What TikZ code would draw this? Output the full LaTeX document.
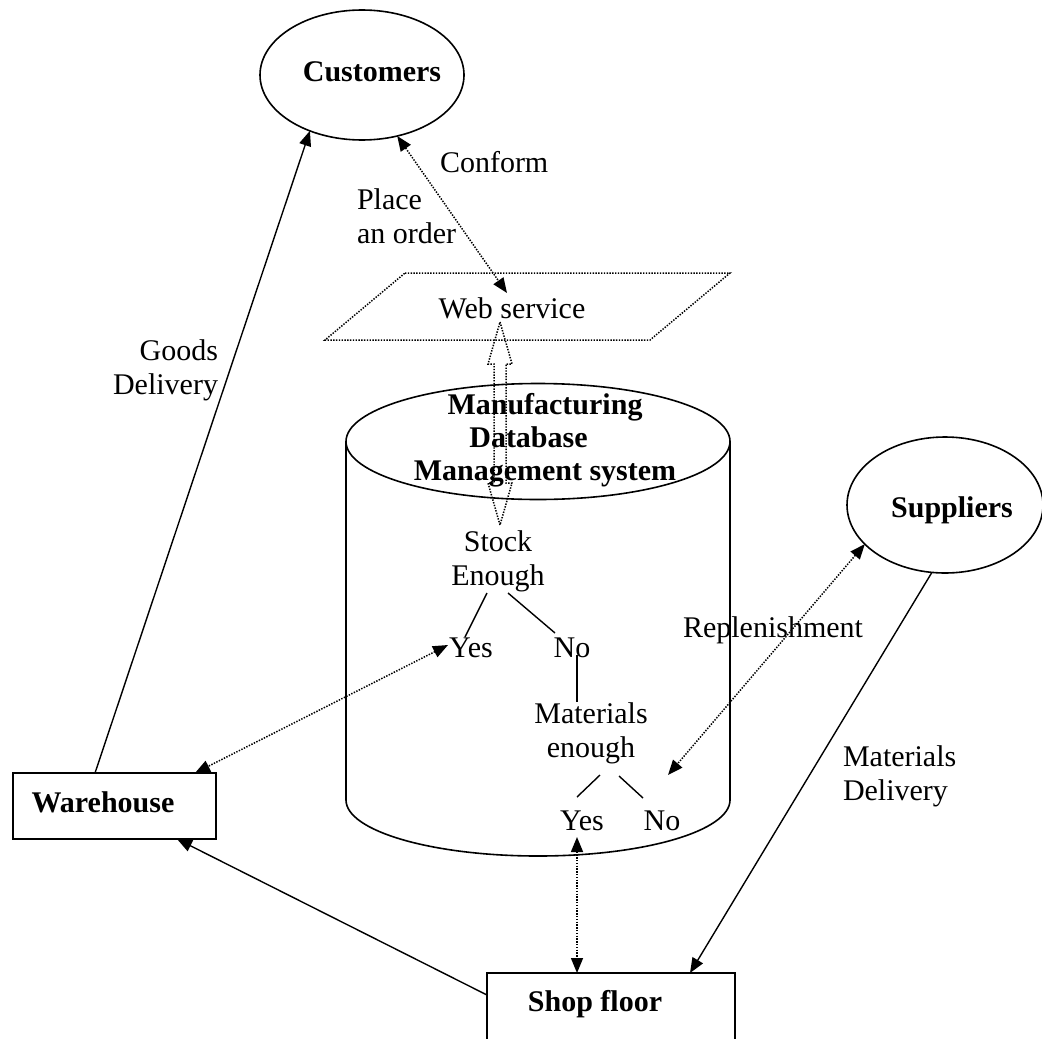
\documentclass[tikz,border=0pt]{standalone}
\usepackage{fontspec}
\setmainfont{Liberation Serif}
\usetikzlibrary{arrows.meta,shapes.geometric,calc}
\begin{document}
\begin{tikzpicture}[x=0.5pt,y=-0.5pt,
  every node/.style={font=\fontsize{15}{17}\selectfont, inner sep=0pt, outer sep=0pt},
  boldtext/.style={font=\fontsize{15}{16.5}\selectfont\bfseries},
  outline/.style={line width=0.8pt},
  flow/.style={line width=0.7pt, -{Triangle[length=7.5pt,width=6pt]}},
  dotline/.style={line width=0.75pt, dash pattern=on 0.7pt off 0.7pt},
  dotflow/.style={dotline, {Triangle[length=7.5pt,width=6pt]}-{Triangle[length=7.5pt,width=6pt]}},
  branch/.style={line width=0.7pt}
]
\clip (0,0) rectangle (1042,1038);

% --- external parties ---
\node[draw, ellipse, outline, minimum width=102pt, minimum height=65pt] (cust) at (362,75) {};
\node[boldtext] (custtxt) at (372,72) {Customers};

\node[draw, ellipse, outline, minimum width=98pt, minimum height=68pt] (sup) at (945,505) {};
\node[boldtext] (suptxt) at (952,510) {Suppliers};

\node[draw, rectangle, outline, minimum width=101.5pt, minimum height=33pt] (wh) at (114.5,806) {};
\node[boldtext] (whtxt) at (103,802) {Warehouse};

\node[draw, rectangle, outline, minimum width=124pt, minimum height=50pt] (shop) at (611,1023) {};
\node[boldtext] (shoptxt) at (595,1004) {Shop floor};

% --- web service (dotted parallelogram) ---
\draw[dotline] (405,273) -- (730,273) -- (650,340) -- (325,340) -- cycle;
\node (ws) at (512,308) {Web service};

% --- database cylinder ---
\draw[outline] (346,441) -- (346,800)
  arc[start angle=180, end angle=360, x radius=96pt, y radius=28pt] -- (730,441);
\draw[outline] (538,441.5) ellipse[x radius=96pt, y radius=29pt];
\node[boldtext, align=center] (db) at (545,440)
  {Manufacturing\\Database\hspace*{1.1em}\null\\Management system};

% hollow two-way link between web service and database
\draw[dotline] (500,322) -- (512,364) -- (506,364) -- (506,483) -- (512,483)
  -- (500,525) -- (488,483) -- (494,483) -- (494,364) -- (488,364) -- cycle;

% --- decision tree inside the database ---
\node[align=center] (stock) at (498,561) {Stock\\Enough};
\node (yes1) at (471,648) {Yes};
\node (no1) at (572,648) {No};
\node[align=center] (mat) at (591,733) {Materials\\enough};
\node (yes2) at (582,821) {Yes};
\node (no2) at (662,821) {No};

\draw[branch] ($(stock)+(-11,32)$) -- ($(yes1)+(-6,-11)$);
\draw[branch] ($(stock)+(10,32)$) -- ($(no1)+(-17,-15)$);
\draw[branch] ($(no1)+(5,7)$) -- ($(mat)+(-14,-31)$);
\draw[branch] ($(mat)+(9,42)$) -- ($(yes2)+(-5,-24)$);
\draw[branch] ($(mat)+(28,43)$) -- ($(no2)+(-19,-23)$);

% --- flows ---
\draw[flow] ($(wh.north west)+(82,0)$) -- (cust.227);
\draw[dotflow] (cust.300) -- ($(ws)+(-5,-15)$);
\draw[dotflow] ($(yes1)+(-23,-3)$) -- ($(wh.north west)+(182,0)$);
\draw[dotflow] (sup.206) -- ($(no2)+(6,-46)$);
\draw[flow] (sup.259) -- ($(shop.north west)+(203,0)$);
\draw[dotflow] ($(yes2)+(-5,16)$) -- ($(shop.north west)+(90,0)$);
\draw[flow] ($(shop.north west)+(0,22)$) -- ($(wh.south west)+(164,0)$);

% --- labels ---
\node[anchor=west] (conform) at (440,162) {Conform};
\node[anchor=west, align=left] (order) at (357,216) {Place\\an order};
\node[anchor=east, align=right] (goods) at (218,370) {Goods\\Delivery};
\node[anchor=west] (repl) at (683,630) {Replenishment};
\node[anchor=west, align=left] (matdel) at (843,776) {Materials\\Delivery};
\end{tikzpicture}
\end{document}
